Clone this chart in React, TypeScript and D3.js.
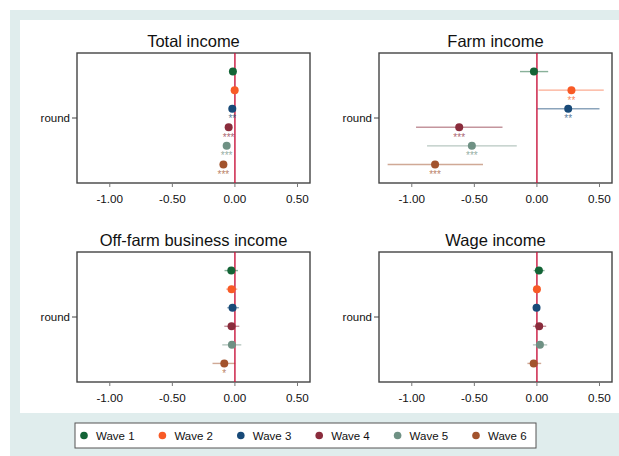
import React from "react";
import * as d3 from "d3";

// Coefficient estimates with 95% confidence intervals, by survey wave
const waves = ["Wave 1", "Wave 2", "Wave 3", "Wave 4", "Wave 5", "Wave 6"];
const waveColors = ["#136436", "#f85a26", "#184a78", "#8a2c3c", "#6f9184", "#a2532d"];

const panelTitles = ["Total income", "Farm income", "Off-farm business income", "Wage income"];

const totalEst = [-0.016, -0.002, -0.021, -0.05, -0.066, -0.092];
const totalLo = [-0.026, -0.012, -0.034, -0.068, -0.088, -0.118];
const totalHi = [-0.006, 0.008, -0.008, -0.032, -0.044, -0.066];
const totalStars = ["", "", "**", "***", "***", "***"];

const farmEst = [-0.024, 0.276, 0.25, -0.621, -0.52, -0.814];
const farmLo = [-0.135, 0.013, 0.002, -0.966, -0.878, -1.193];
const farmHi = [0.09, 0.534, 0.5, -0.275, -0.161, -0.431];
const farmStars = ["", "**", "**", "***", "***", "***"];

const offEst = [-0.029, -0.027, -0.019, -0.027, -0.024, -0.085];
const offLo = [-0.083, -0.069, -0.061, -0.085, -0.101, -0.179];
const offHi = [0.024, 0.019, 0.032, 0.035, 0.051, 0.003];
const offStars = ["", "", "", "", "", "*"];

const wageEst = [0.016, 0.0, -0.003, 0.018, 0.024, -0.026];
const wageLo = [-0.026, -0.022, -0.024, -0.032, -0.032, -0.076];
const wageHi = [0.061, 0.022, 0.02, 0.074, 0.082, 0.034];
const wageStars = ["", "", "", "", "", ""];

const xTicks = [-1, -0.5, 0, 0.5];
const xDomain: [number, number] = [-1.262, 0.6];
const yLabel = "round";

const panelEst = [totalEst, farmEst, offEst, wageEst];
const panelLo = [totalLo, farmLo, offLo, wageLo];
const panelHi = [totalHi, farmHi, offHi, wageHi];
const panelStars = [totalStars, farmStars, offStars, wageStars];

const FONT = "'Liberation Sans', Arial, sans-serif";

type Box = { x0: number; x1: number; y0: number; y1: number };
const boxes: Box[] = [
  { x0: 77, x1: 310, y0: 53, y1: 183 },
  { x0: 379, x1: 612, y0: 53, y1: 183 },
  { x0: 77, x1: 310, y0: 252, y1: 382 },
  { x0: 379, x1: 612, y0: 252, y1: 382 },
];

function Panel({ idx }: { idx: number }) {
  const b = boxes[idx];
  const x = d3.scaleLinear().domain(xDomain).range([b.x0, b.x1]);
  const y = d3.scalePoint<string>().domain(waves).range([b.y0, b.y1]).padding(1);
  const est = panelEst[idx];
  const lo = panelLo[idx];
  const hi = panelHi[idx];
  const stars = panelStars[idx];
  const yMid = (b.y0 + b.y1) / 2;
  return (
    <g>
      <text
        x={(b.x0 + b.x1) / 2}
        y={b.y0 - 6}
        textAnchor="middle"
        fontSize={16.5}
        fill="#111"
        fontFamily={FONT}
      >
        {panelTitles[idx]}
      </text>
      <rect x={b.x0} y={b.y0} width={b.x1 - b.x0} height={b.y1 - b.y0} fill="#fff" stroke="#444" strokeWidth={1.4} />
      {/* y-axis tick and label */}
      <line x1={b.x0 - 5} x2={b.x0} y1={yMid} y2={yMid} stroke="#444" strokeWidth={1} />
      <text x={b.x0 - 7} y={yMid + 4} textAnchor="end" fontSize={11.5} fill="#111" fontFamily={FONT}>
        {yLabel}
      </text>
      {/* x-axis ticks */}
      {xTicks.map((t) => (
        <g key={t}>
          <line x1={x(t)} x2={x(t)} y1={b.y1} y2={b.y1 + 4} stroke="#777" strokeWidth={1} />
          <text x={x(t)} y={b.y1 + 20} textAnchor="middle" fontSize={11.7} fill="#111" fontFamily={FONT}>
            {d3.format(".2f")(t).replace("−", "-")}
          </text>
        </g>
      ))}
      {/* confidence intervals */}
      {waves.map((w, i) => (
        <line
          key={"ci" + w}
          x1={x(lo[i])}
          x2={x(hi[i])}
          y1={y(w)!}
          y2={y(w)!}
          stroke={waveColors[i]}
          strokeOpacity={0.5}
          strokeWidth={1.4}
        />
      ))}
      {/* zero reference line */}
      <line x1={x(0)} x2={x(0)} y1={b.y0} y2={b.y1} stroke="#c8143c" strokeWidth={1.4} />
      {/* point estimates and significance stars */}
      {waves.map((w, i) => (
        <g key={"pt" + w}>
          <circle cx={x(est[i])} cy={y(w)!} r={4} fill={waveColors[i]} />
          {stars[i] && (
            <text
              x={x(est[i])}
              y={y(w)! + 13.5}
              textAnchor="middle"
              fontSize={10}
              fill={waveColors[i]}
              fillOpacity={0.75}
              fontFamily={FONT}
            >
              {stars[i]}
            </text>
          )}
        </g>
      ))}
    </g>
  );
}

function Legend() {
  const lx0 = 75;
  const ly0 = 423;
  const step = 78.4;
  return (
    <g>
      <rect x={lx0} y={ly0} width={461} height={25} fill="#fff" stroke="#555" strokeWidth={1} />
      {waves.map((w, i) => (
        <g key={w} transform={`translate(${lx0 + 9 + i * step},${ly0 + 12.5})`}>
          <circle cx={0} cy={0} r={3.8} fill={waveColors[i]} />
          <text x={12} y={4} fontSize={11.5} fill="#111" fontFamily={FONT}>
            {w}
          </text>
        </g>
      ))}
    </g>
  );
}

export default function App() {
  return (
    <svg
      width={619}
      height={456}
      style={{ position: "absolute", left: 0, top: 0, display: "block" }}
    >
      <rect x={0} y={0} width={619} height={456} fill="#fff" />
      <rect x={10} y={10} width={609} height={446} fill="#e0eded" />
      <rect x={20} y={20} width={599} height={393} fill="#fff" />
      {panelTitles.map((_, i) => (
        <Panel key={i} idx={i} />
      ))}
      <Legend />
    </svg>
  );
}
